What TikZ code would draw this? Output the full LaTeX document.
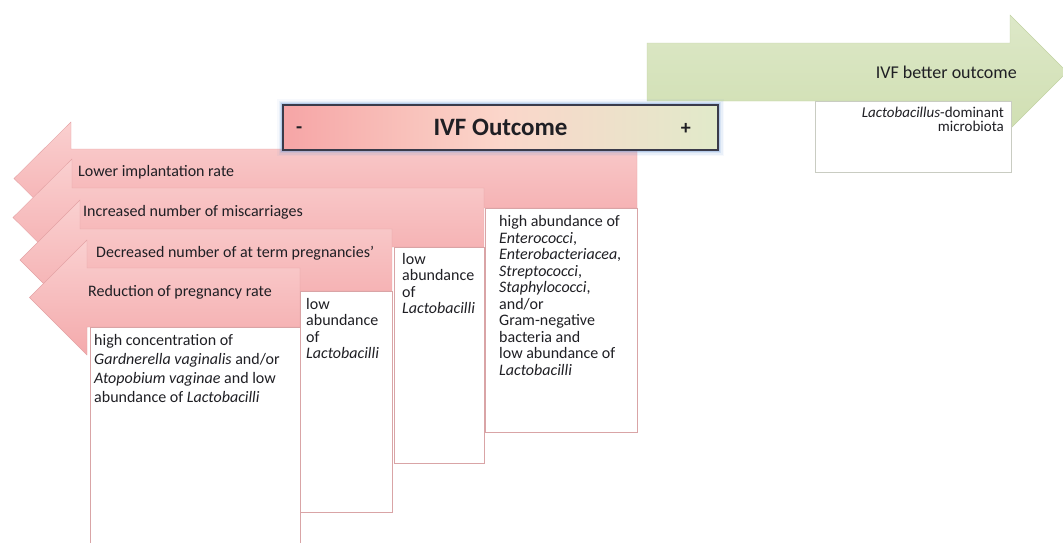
\documentclass[tikz,border=0pt]{standalone}
\usepackage{fontspec}
\setmainfont{Carlito}

\definecolor{ink}{HTML}{1F1F24}
\definecolor{pinktop}{HTML}{FAD0D0}
\definecolor{pinkbot}{HTML}{F4AAAC}
\definecolor{pinkline}{HTML}{E4A3A5}
\definecolor{boxline}{HTML}{D9A4A6}
\definecolor{greentop}{HTML}{DDE8C8}
\definecolor{greenbot}{HTML}{D0DFB2}
\definecolor{greenline}{HTML}{C3D3A4}
\definecolor{greybox}{HTML}{C9CCC2}
\definecolor{salmon}{HTML}{F6A5A6}
\definecolor{peach}{HTML}{FBD6CA}
\definecolor{palegreen}{HTML}{E1EACA}
\definecolor{frame}{HTML}{3A3B4A}
\definecolor{glow}{HTML}{6F9BD6}

\tikzset{
  badarrow/.style={draw=pinkline, top color=pinktop, bottom color=pinkbot},
  goodarrow/.style={draw=greenline, top color=greentop, bottom color=greenbot},
  microbox/.style={draw=boxline, fill=white},
  lbl/.style={anchor=west, inner sep=0, text=ink, font=\fontsize{16}{18}\selectfont},
  boxtxt/.style={anchor=north west, align=left, inner sep=0, text=ink, font=\fontsize{16}{16.5}\selectfont},
}

\begin{document}
\begin{tikzpicture}[x=1pt, y=-1pt]
\useasboundingbox (0, 0) rectangle (1063, 542);

\draw[badarrow] (637, 149) -- (71, 149) -- (71, 122) -- (14, 178.5) -- (71, 235) -- (71, 208) -- (637, 208) -- cycle;
\node at (78, 172) [lbl] (implant) {Lower implantation rate};
\draw[microbox] (485, 208) rectangle (637, 432);
\node at (499, 215.5) [boxtxt] (mixed) {high abundance of\\ \textit{Enterococci},\\ \textit{Enterobacteriacea},\\ \textit{Streptococci},\\ \textit{Staphylococci},\\ and/or\\ Gram-negative\\ bacteria and\\ low abundance of\\ \textit{Lactobacilli}};

\draw[badarrow] (484, 188) -- (72, 188) -- (72, 159) -- (13, 217.5) -- (72, 276) -- (72, 247) -- (484, 247) -- cycle;
\node at (83, 212) [lbl] (miscarriage) {Increased number of miscarriages};
\draw[microbox] (394, 247) rectangle (484, 463);
\node at (402, 253) [boxtxt] (lowlacto1) {low\\ abundance\\ of\\ \textit{Lactobacilli}};

\draw[badarrow] (392, 229) -- (80, 229) -- (80, 200) -- (20, 260) -- (80, 320) -- (80, 291) -- (392, 291) -- cycle;
\node at (96, 253) [lbl] (atterm) {Decreased number of at term pregnancies'};
\draw[microbox] (300, 291) rectangle (392, 512);
\node at (306, 298) [boxtxt] (lowlacto2) {low\\ abundance\\ of\\ \textit{Lactobacilli}};

\draw[badarrow] (300, 268) -- (87, 268) -- (87, 240) -- (29.5, 297.5) -- (87, 355) -- (87, 327) -- (300, 327) -- cycle;
\node at (88, 292) [lbl] (pregrate) {Reduction of pregnancy rate};
\draw[microbox] (90, 327) rectangle (300, 560);
\node at (94, 334) [boxtxt, font=\fontsize{16}{19}\selectfont] (gardnerella) {high concentration of\\ \textit{Gardnerella vaginalis} and/or\\ \textit{Atopobium vaginae} and low\\ abundance of \textit{Lactobacilli}};

\draw[goodarrow] (647, 43) -- (1010, 43) -- (1010, 15) -- (1067, 72) -- (1010, 129) -- (1010, 101) -- (647, 101) -- cycle;
\node at (1017, 72) [anchor=east, inner sep=0, text=ink, font=\fontsize{18}{20}\selectfont] (better) {IVF better outcome};
\draw[draw=greybox, fill=white] (815, 101) rectangle (1011, 172);
\node at (1004, 107) [anchor=north east, align=right, inner sep=0, text=ink, font=\fontsize{15}{13.5}\selectfont] (dominant) {\textit{Lactobacillus}-dominant\\ microbiota};

\foreach \w/\o in {12/0.06, 9/0.1, 6/0.16, 3.5/0.3} {
  \draw[glow, line width=\w, opacity=\o] (283, 105) rectangle (718, 150);
}
\node at (500.5, 127.5) [draw=frame, line width=1.8, minimum width=435, minimum height=45, inner sep=0, left color=salmon, right color=palegreen, middle color=peach, text=ink, font=\fontsize{25}{28}\selectfont\bfseries] (outcome) {IVF Outcome};
\node at ([xshift=17, yshift=-3]outcome.west) [text=ink, font=\fontsize{20}{24}\selectfont\bfseries] (minus) {-};
\node at ([xshift=-33, yshift=-1]outcome.east) [text=ink, font=\fontsize{20}{24}\selectfont\bfseries] (plus) {+};
\end{tikzpicture}
\end{document}
